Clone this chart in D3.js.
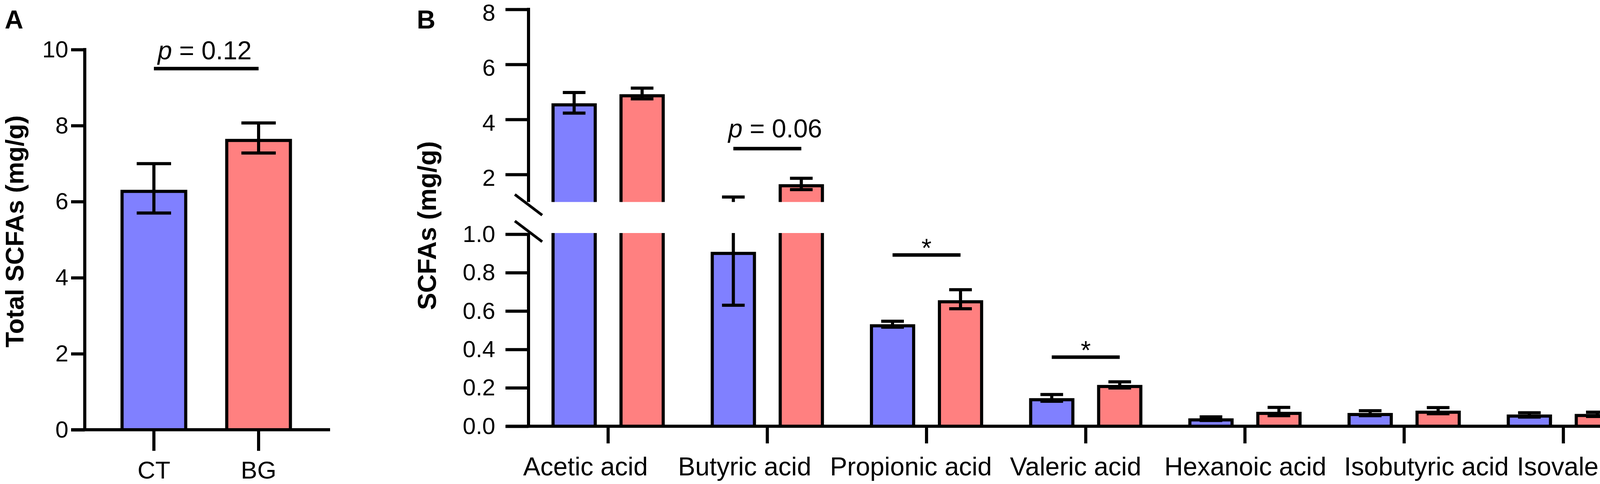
<!DOCTYPE html>
<html><head><meta charset="utf-8">
<script src="https://cdn.jsdelivr.net/npm/d3@7"></script>
<style>
body{margin:0;background:#fff}
svg{display:block}
text{font-family:"Liberation Sans",Arial,Helvetica,sans-serif;white-space:pre}
</style>
</head><body>
<svg id="chart" width="4328" height="1240"></svg>
<script>
// ---------------- DATA ----------------
const groups = ["CT", "BG"];

// Panel A: total SCFAs (mg/g)
const totalMean = [6.27, 7.61];
const totalLow  = [5.70, 7.28];
const totalHigh = [7.00, 8.07];
const totalTicks = [0, 2, 4, 6, 8, 10];
const sigLabelA = "p = 0.12";
const sigLevelA = 9.5;

// Panel B: individual SCFAs (mg/g)
const acids = ["Acetic acid", "Butyric acid", "Propionic acid", "Valeric acid",
               "Hexanoic acid", "Isobutyric acid", "Isovaleric acid"];
const ctMean = [4.53, 0.90, 0.523, 0.138, 0.033, 0.061, 0.053];
const ctLow  = [4.23, 0.63, 0.516, 0.130, 0.030, 0.055, 0.048];
const ctHigh = [4.98, 1.18, 0.547, 0.165, 0.049, 0.081, 0.070];
const bgMean = [4.86, 1.59, 0.648, 0.207, 0.067, 0.073, 0.056];
const bgLow  = [4.75, 1.45, 0.612, 0.199, 0.055, 0.065, 0.051];
const bgHigh = [5.14, 1.86, 0.711, 0.231, 0.098, 0.097, 0.073];
const upperTicks = [2, 4, 6, 8];
const lowerTicks = [0, 0.2, 0.4, 0.6, 0.8, 1.0];
const sigCatsB   = ["Butyric acid", "Propionic acid", "Valeric acid"];
const sigLabelsB = ["p = 0.06", "*", "*"];
const sigLevelsB = [2.94, 0.892, 0.36];

// ---------------- LAYOUT / STYLE ----------------
const colors = {CT: "#8080ff", BG: "#ff8080"};
const SW = 8;
const FONT_TICK = 60;
const labelShiftB = [-58, -58, -40, -26, 1, 57, 90]; // category label nudges (px)

const svg = d3.select("#chart");

function styleAxis(g, fs) {
  g.select(".domain").remove();
  g.selectAll(".tick line").attr("stroke", "#000").attr("stroke-width", SW);
  g.selectAll(".tick text").attr("fill", "#000").style("font-size", fs + "px");
}

function pText(g, x, y, label) {
  const t = g.append("text").attr("x", x).attr("y", y)
    .attr("text-anchor", "middle").style("font-size", "66px").attr("fill", "#000");
  if (label.startsWith("p")) {
    t.append("tspan").style("font-style", "italic").text("p");
    t.append("tspan").text(label.slice(1));
  } else {
    t.text(label);
  }
  return t;
}

// ================= PANEL A =================
const gA = svg.append("g");
const yA = d3.scaleLinear().domain([0, 10]).range([1101, 127]);
const xA = d3.scaleBand().domain(groups).range([217, 845])
  .paddingInner(0).paddingOuter(0.1716).align(0.467);
const cxA = g => xA(g) + xA.bandwidth() / 2;
const barWA = 163;

const aData = groups.map((g, i) => ({g, mean: totalMean[i], lo: totalLow[i], hi: totalHigh[i]}));

gA.selectAll("rect.bar").data(aData).join("rect")
  .attr("class", "bar")
  .attr("x", d => cxA(d.g) - barWA / 2)
  .attr("y", d => yA(d.mean))
  .attr("width", barWA)
  .attr("height", d => yA(0) - yA(d.mean))
  .attr("fill", d => colors[d.g])
  .attr("stroke", "#000").attr("stroke-width", SW);

const capA = 88;
const ebA = gA.selectAll("g.eb").data(aData).join("g").attr("class", "eb")
  .attr("stroke", "#000").attr("stroke-width", SW);
ebA.append("line").attr("x1", d => cxA(d.g)).attr("x2", d => cxA(d.g))
  .attr("y1", d => yA(d.lo)).attr("y2", d => yA(d.hi));
ebA.append("line").attr("x1", d => cxA(d.g) - capA / 2).attr("x2", d => cxA(d.g) + capA / 2)
  .attr("y1", d => yA(d.hi)).attr("y2", d => yA(d.hi));
ebA.append("line").attr("x1", d => cxA(d.g) - capA / 2).attr("x2", d => cxA(d.g) + capA / 2)
  .attr("y1", d => yA(d.lo)).attr("y2", d => yA(d.lo));

// y axis A
const axAy = gA.append("g").attr("transform", "translate(217,0)")
  .call(d3.axisLeft(yA).tickValues(totalTicks).tickSize(35).tickPadding(7).tickFormat(d3.format("d")));
styleAxis(axAy, FONT_TICK);
gA.append("line").attr("x1", 217).attr("x2", 217).attr("y1", yA(0)).attr("y2", yA(10) - SW / 2)
  .attr("stroke", "#000").attr("stroke-width", SW);
// x axis A
const axAx = gA.append("g").attr("transform", `translate(0,${yA(0)})`)
  .call(d3.axisBottom(xA).tickSize(54));
styleAxis(axAx, 63);
axAx.selectAll(".tick text").attr("y", 125).attr("dy", 0);
gA.append("line").attr("x1", 182).attr("x2", 845).attr("y1", yA(0)).attr("y2", yA(0))
  .attr("stroke", "#000").attr("stroke-width", SW);

// significance A
gA.append("line").attr("x1", cxA("CT")).attr("x2", cxA("BG"))
  .attr("y1", yA(sigLevelA)).attr("y2", yA(sigLevelA))
  .attr("stroke", "#000").attr("stroke-width", 9);
pText(gA, (cxA("CT") + cxA("BG")) / 2 - 4, yA(sigLevelA) - 24, sigLabelA);

// titles A
gA.append("text").attr("x", 12).attr("y", 73).style("font-size", "66px")
  .style("font-weight", "bold").text("A");
gA.append("text").attr("transform", "translate(60,593) rotate(-90)")
  .attr("text-anchor", "middle").style("font-size", "65px").style("font-weight", "bold")
  .text("Total SCFAs (mg/g)");

// ================= PANEL B =================
const gB = svg.append("g");
const axisXB = 1353;
const yLow = d3.scaleLinear().domain([0, 1]).range([1092, 600]);
const yUp  = d3.scaleLinear().domain([1, 8]).range([517.5, 24]);
const xB = d3.scaleBand().domain(acids).range([axisXB, 4206]);
const xSub = d3.scalePoint().domain(groups).range([-87, 87]);
const cxB = (a, g) => xB(a) + xB.bandwidth() / 2 + xSub(g);
const barWB = 108, capB = 58;

const bData = acids.flatMap((a, i) => [
  {a, g: "CT", mean: ctMean[i], lo: ctLow[i], hi: ctHigh[i]},
  {a, g: "BG", mean: bgMean[i], lo: bgLow[i], hi: bgHigh[i]}
]);

const defs = svg.append("defs");
defs.append("clipPath").attr("id", "clipUp").append("rect")
  .attr("x", 0).attr("y", 0).attr("width", 4328).attr("height", yUp(1));
defs.append("clipPath").attr("id", "clipLow").append("rect")
  .attr("x", 0).attr("y", yLow(1) - 3).attr("width", 4328).attr("height", 1240);

function drawSegment(yS, clipId, isUpper) {
  const seg = gB.append("g").attr("clip-path", `url(#${clipId})`);
  const bars = bData.filter(d => isUpper ? d.mean > 1 : true);
  seg.selectAll("rect").data(bars).join("rect")
    .attr("x", d => cxB(d.a, d.g) - barWB / 2)
    .attr("y", d => isUpper ? yS(d.mean) : yS(Math.min(d.mean, 1.1)))
    .attr("width", barWB)
    .attr("height", d => isUpper ? (yS(1) - yS(d.mean) + 30) : (yS(0) - yS(Math.min(d.mean, 1.1))))
    .attr("fill", d => colors[d.g])
    .attr("stroke", "#000").attr("stroke-width", SW);
  const eb = seg.selectAll("g.eb").data(bData).join("g").attr("class", "eb")
    .attr("stroke", "#000").attr("stroke-width", SW);
  eb.append("line").attr("x1", d => cxB(d.a, d.g)).attr("x2", d => cxB(d.a, d.g))
    .attr("y1", d => yS(d.lo)).attr("y2", d => yS(d.hi));
  eb.append("line").attr("x1", d => cxB(d.a, d.g) - capB / 2).attr("x2", d => cxB(d.a, d.g) + capB / 2)
    .attr("y1", d => yS(d.hi)).attr("y2", d => yS(d.hi));
  eb.append("line").attr("x1", d => cxB(d.a, d.g) - capB / 2).attr("x2", d => cxB(d.a, d.g) + capB / 2)
    .attr("y1", d => yS(d.lo)).attr("y2", d => yS(d.lo));
}
drawSegment(yUp, "clipUp", true);
drawSegment(yLow, "clipLow", false);

// y axes B
const axUp = gB.append("g").attr("transform", `translate(${axisXB},0)`)
  .call(d3.axisLeft(yUp).tickValues(upperTicks).tickSize(59).tickPadding(26).tickFormat(d3.format("d")));
styleAxis(axUp, FONT_TICK);
axUp.selectAll(".tick text").attr("y", 9);
const axLow = gB.append("g").attr("transform", `translate(${axisXB},0)`)
  .call(d3.axisLeft(yLow).tickValues(lowerTicks).tickSize(59).tickPadding(26).tickFormat(d3.format(".1f")));
styleAxis(axLow, FONT_TICK);
gB.append("line").attr("x1", axisXB).attr("x2", axisXB).attr("y1", yUp(8) - SW / 2).attr("y2", yUp(1))
  .attr("stroke", "#000").attr("stroke-width", SW);
gB.append("line").attr("x1", axisXB).attr("x2", axisXB).attr("y1", yLow(1) - 3).attr("y2", yLow(0))
  .attr("stroke", "#000").attr("stroke-width", SW);

// break marks
const gapMid = (yUp(1) + yLow(1)) / 2;
[-34, 34].forEach(off => {
  gB.append("line").attr("x1", axisXB - 35).attr("x2", axisXB + 35)
    .attr("y1", gapMid + off - 26.5).attr("y2", gapMid + off + 26.5)
    .attr("stroke", "#000").attr("stroke-width", 7);
});

// x axis B
const axBx = gB.append("g").attr("transform", `translate(0,${yLow(0)})`)
  .call(d3.axisBottom(xB).tickSize(44));
styleAxis(axBx, 66);
axBx.selectAll(".tick text").attr("y", 126).attr("dy", 0)
  .attr("dx", (d, i) => labelShiftB[i]);
gB.append("line").attr("x1", axisXB - 58).attr("x2", 4212).attr("y1", yLow(0)).attr("y2", yLow(0))
  .attr("stroke", "#000").attr("stroke-width", SW);

// significance B
const yB = v => v > 1 ? yUp(v) : yLow(v);
sigCatsB.forEach((c, i) => {
  const x1 = cxB(c, "CT"), x2 = cxB(c, "BG"), yy = yB(sigLevelsB[i]);
  gB.append("line").attr("x1", x1).attr("x2", x2).attr("y1", yy).attr("y2", yy)
    .attr("stroke", "#000").attr("stroke-width", 9);
  if (sigLabelsB[i] === "*") {
    pText(gB, (x1 + x2) / 2, yy + 5, "*");
  } else {
    pText(gB, (x1 + x2) / 2 + 20, yy - 29, sigLabelsB[i]);
  }
});

// titles B
gB.append("text").attr("x", 1067).attr("y", 73).style("font-size", "66px")
  .style("font-weight", "bold").text("B");
gB.append("text").attr("transform", "translate(1116,578) rotate(-90)")
  .attr("text-anchor", "middle").style("font-size", "66px").style("font-weight", "bold")
  .text("SCFAs (mg/g)");
</script>
</body></html>
